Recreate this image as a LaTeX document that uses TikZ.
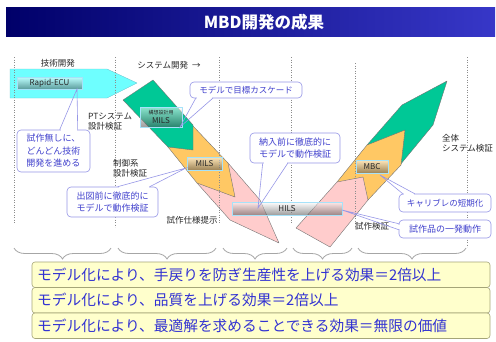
\documentclass[tikz,border=0pt]{standalone}
\usepackage{fontspec}
\setmainfont{Noto Sans CJK JP}
\usetikzlibrary{calc,decorations.pathreplacing}
\definecolor{navy}{RGB}{0,0,105}
\definecolor{barblue}{RGB}{55,55,200}
\definecolor{cgreen}{RGB}{0,200,150}
\definecolor{corange}{RGB}{255,200,100}
\definecolor{cpink}{RGB}{255,204,204}
\definecolor{ccyan}{RGB}{110,255,255}
\definecolor{ccyanline}{RGB}{110,200,210}
\definecolor{callborder}{RGB}{150,150,230}
\definecolor{calltext}{RGB}{65,65,205}
\definecolor{boxfill}{RGB}{255,255,204}
\definecolor{boxborder}{RGB}{165,165,120}
\definecolor{boxtext}{RGB}{50,50,210}
\begin{document}
\begin{tikzpicture}[x=1pt,y=-1pt,
  band/.style={draw=black!55, line width=0.4pt, line join=round},
  lbl/.style={font=\fontsize{8.5}{10}\selectfont, text=black!85, inner sep=0},
  callbox/.style={draw=callborder, fill=white, rounded corners=4pt, line width=0.6pt,
    text=calltext, font=\fontsize{9}{11.5}\selectfont, align=center, inner sep=0},
  callline/.style={draw=callborder, line width=0.6pt},
  tagbox/.style={draw=cyan!35, line width=0.4pt, top color=white, bottom color=black!70,
    fill opacity=0.55, text opacity=1, text=black!85, font=\fontsize{8}{9}\selectfont,
    inner sep=0, align=center},
  gridline/.style={draw=black!45, dotted, line width=0.5pt},
  bracestyle/.style={draw=black!35, line width=0.8pt, decorate,
    decoration={brace, mirror, amplitude=11pt}},
  resbox/.style={draw=boxborder, fill=boxfill, rounded corners=3pt, line width=0.6pt,
    minimum width=458pt, minimum height=25.5pt, inner sep=0},
  restext/.style={text=boxtext, font=\fontsize{14.7}{16}\selectfont, anchor=west, inner sep=0}
]
\useasboundingbox (0,0) rectangle (496,341);

% title bar
\shade[left color=navy, right color=barblue] (6,7) rectangle (495,36);
\node[text=white, font=\fontsize{16.5}{18}\selectfont\bfseries, inner sep=0] (title) at (264,22) {MBD開発の成果};

% cyan arrow
\filldraw[band, fill=ccyan, draw=ccyanline] (10,69) -- (107,69) -- (137,83) -- (107,98) -- (10,98) -- cycle;

% left band (down-right)
\filldraw[band, fill=cpink] (197,183) -- (228,163) -- (260,200) -- (279,243) -- (230,220) -- cycle;
\filldraw[band, fill=corange] (168,147) -- (193,126) -- (228,163) -- (235,197) -- (197,183) -- cycle;
\filldraw[band, fill=cgreen] (123,100) -- (153,80) -- (193,125) -- (193,150) -- (168,147) -- cycle;

% right band (up-right)
\filldraw[band, fill=cgreen] (367,145) -- (402,105) -- (447,81) -- (433,125) -- (400,165) -- cycle;
\filldraw[band, fill=corange] (337,182) -- (367,145) -- (405,130) -- (401,165) -- (368,200) -- cycle;
\filldraw[band, fill=cpink] (296,228) -- (337,182) -- (363,177) -- (368,200) -- (330,247) -- cycle;

% dotted grid lines
\draw[gridline] (14,57) -- (14,223);
\draw[gridline] (115,57) -- (115,227);
\draw[gridline] (219,57) -- (219,224);
\draw[gridline] (291,57) -- (291,224);
\draw[gridline] (355,63) -- (355,227);
\draw[gridline] (467,57) -- (467,247);

% tag boxes
\node[tagbox, minimum width=65pt, minimum height=12pt] (ecu) at (49.5,83) {Rapid-ECU};
\node[tagbox, minimum width=42pt, minimum height=20pt] (mils1) at (161,117)
  {{\fontsize{5}{5.5}\selectfont 構想設計用}\\[-0.5pt]MILS};
\node[tagbox, minimum width=35pt, minimum height=13pt] (mils2) at (204.5,163.5) {MILS};
\node[tagbox, minimum width=110pt, minimum height=13pt] (hils) at (287,208.5) {HILS};
\node[tagbox, minimum width=32pt, minimum height=13pt] (mbc) at (372,166.5) {MBC};

% labels
\node[lbl] (l1) at (58,63) {技術開発};
\node[lbl] (l2) at (169,65.5) {システム開発\ \ →};
\node[lbl, anchor=west, align=left] (l3) at (88,122) {PTシステム\\設計検証};
\node[lbl, anchor=west, align=left] (l4) at (113,168.5) {制御系\\設計検証};
\node[lbl] (l5) at (192,220.5) {試作仕様提示};
\node[lbl, anchor=west, align=left] (l6) at (442,143) {全体\\システム検証};
\node[lbl] (l7) at (372,226.5) {試作検証};

% callouts
\coordinate (t1) at (77,89);
\coordinate (t2) at (180,127);
\coordinate (t3) at (258,208);
\coordinate (t4) at (186,168);
\coordinate (t5) at (380,175);
\coordinate (t6) at (342,210);

\node[callbox, minimum width=73pt, minimum height=42pt, font=\fontsize{9}{12.5}\selectfont] (c1) at (53.5,151)
  {試作無しに、\\どんどん技術\\開発を進める};
\node[callbox, minimum width=112pt, minimum height=16pt, font=\fontsize{8.5}{10}\selectfont] (c2) at (246,90) {モデルで目標カスケード};
\node[callbox, minimum width=90pt, minimum height=30pt] (c3) at (295,148) {納入前に徹底的に\\モデルで動作検証};
\node[callbox, minimum width=91pt, minimum height=30pt] (c4) at (112.5,202) {出図前に徹底的に\\モデルで動作検証};
\node[callbox, minimum width=92pt, minimum height=18pt, font=\fontsize{8.5}{10}\selectfont] (c5) at (445,203) {キャリブレの短期化};
\node[callbox, minimum width=92pt, minimum height=18pt] (c6) at (445,229) {試作品の一発動作};

% pointers
\coordinate (a1) at ($(c1.north west)+(43,0)$);
\coordinate (b1) at ($(c1.north west)+(61,0)$);
\coordinate (a2) at ($(c2.south west)+(6,0)$);
\coordinate (b2) at ($(c2.south west)+(23,0)$);
\coordinate (a3) at ($(c3.south west)+(13,0)$);
\coordinate (b3) at ($(c3.south west)+(38,0)$);
\coordinate (a4) at ($(c4.north west)+(51,0)$);
\coordinate (b4) at ($(c4.north west)+(83,0)$);
\coordinate (a5) at ($(c5.north west)+(4,0)$);
\coordinate (b5) at ($(c5.north west)+(16,0)$);
\coordinate (a6) at ($(c6.north west)+(0,4)$);
\coordinate (b6) at ($(c6.north west)+(0,10)$);

\foreach \i in {1,2,3,4,5}{
  \fill[white] ($(a\i)+(0.8,-1.2)$) rectangle ($(b\i)+(-0.8,1.2)$);
  \draw[callline] (a\i) -- (t\i) -- (b\i);
}
\fill[white] ($(a6)+(-1.2,0.8)$) rectangle ($(b6)+(1.2,-0.8)$);
\draw[callline] (a6) -- (t6) -- (b6);

% braces
\draw[bracestyle] (14,248) -- (111,248);
\draw[bracestyle] (118,248) -- (216,248);
\draw[bracestyle] (223,248) -- (287,248);
\draw[bracestyle] (293,248) -- (352,248);
\draw[bracestyle] (358,248) -- (466,248);

% result boxes
\node[resbox] (r1) at (261,274.75) {};
\node[resbox] (r2) at (261,300.25) {};
\node[resbox] (r3) at (261,325.75) {};
\node[restext] (rt1) at (37,274.75) {モデル化により、手戻りを防ぎ生産性を上げる効果＝2倍以上};
\node[restext] (rt2) at (37,300.25) {モデル化により、品質を上げる効果＝2倍以上};
\node[restext] (rt3) at (37,325.75) {モデル化により、最適解を求めることできる効果＝無限の価値};
\end{tikzpicture}
\end{document}
